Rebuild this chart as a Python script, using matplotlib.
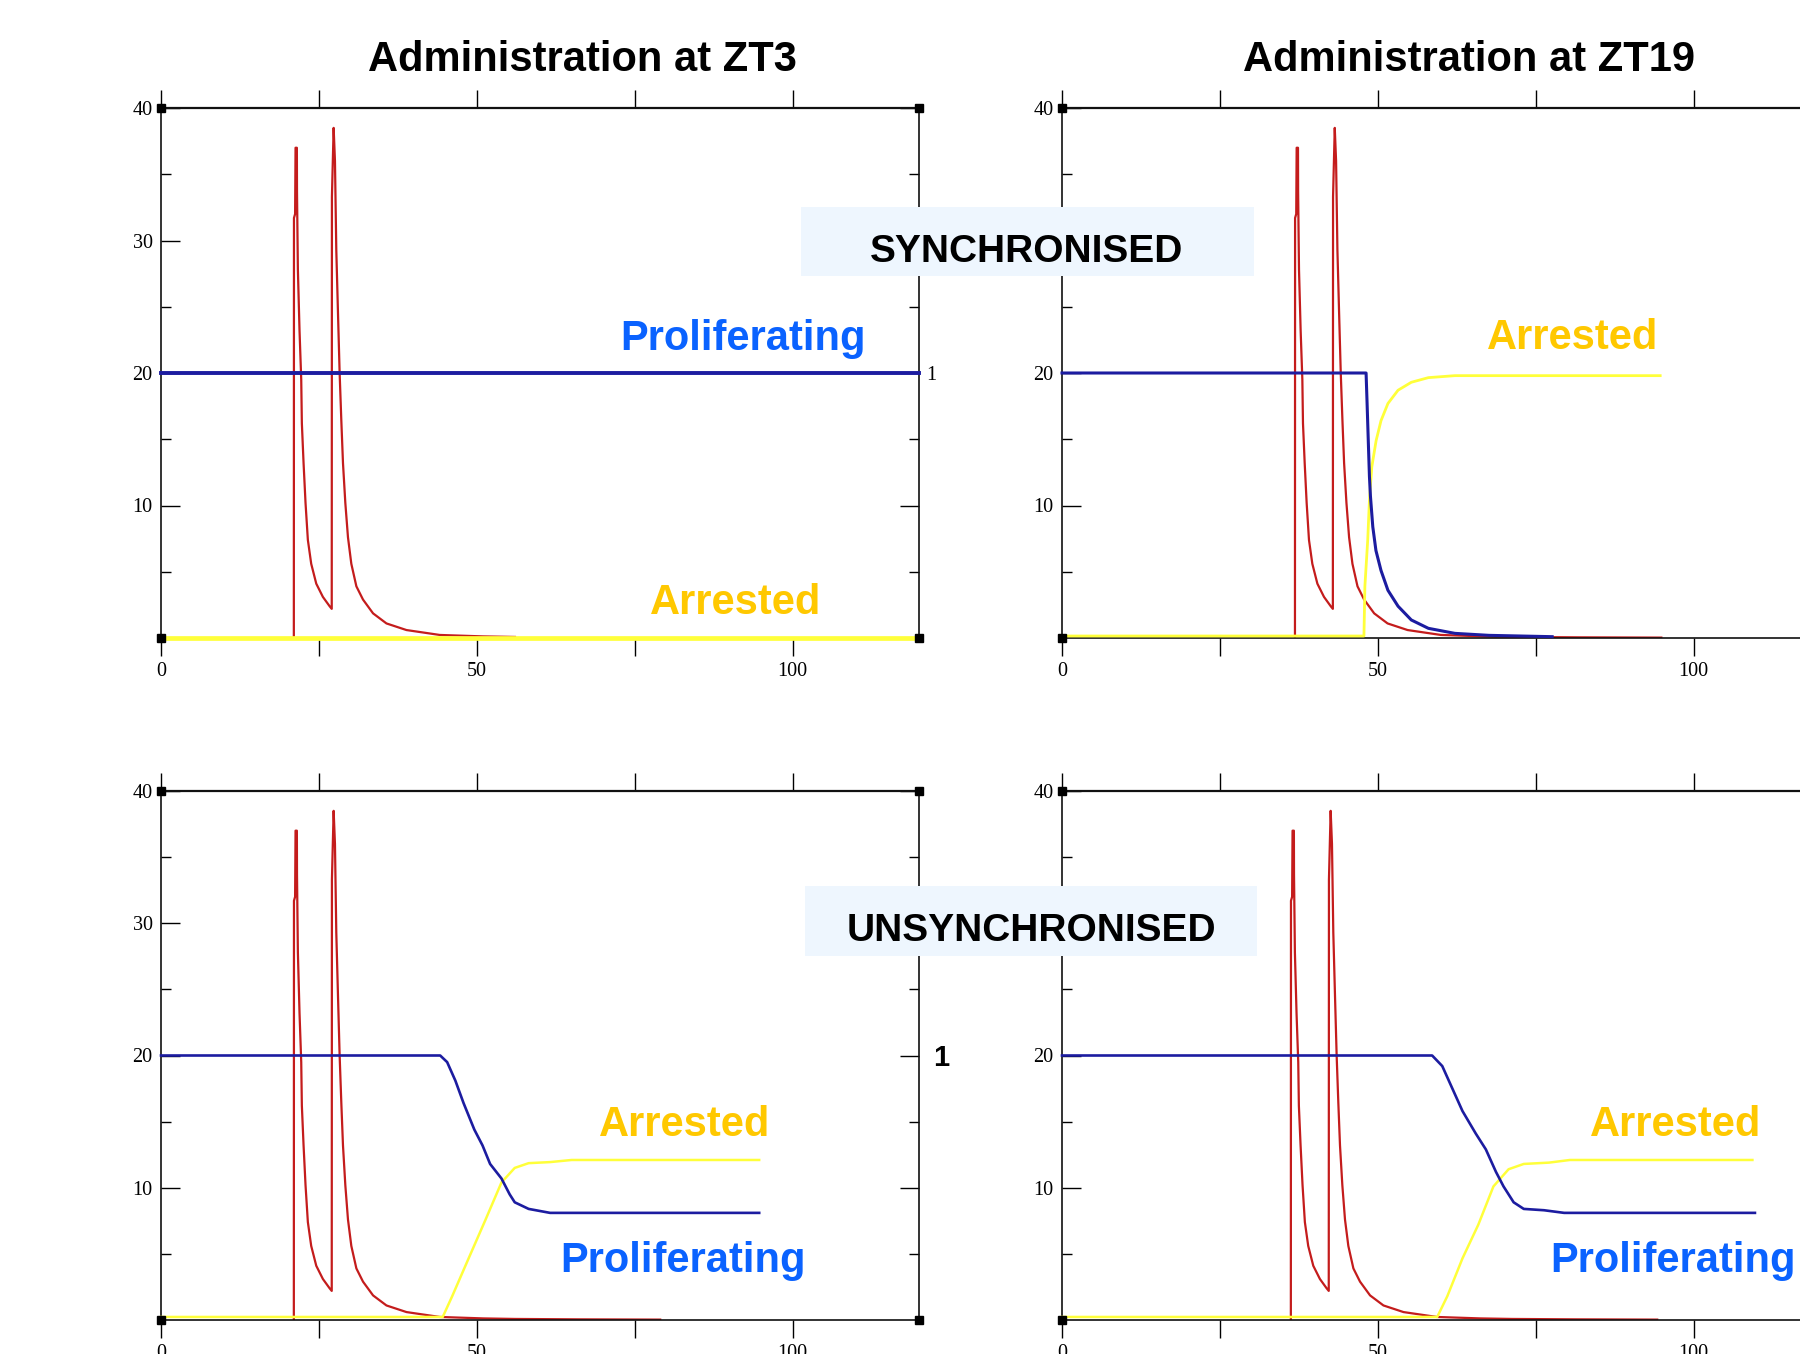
import matplotlib
matplotlib.use("Agg")
import matplotlib.pyplot as plt
from matplotlib import font_manager
from matplotlib.patches import Rectangle
import numpy as np

# drug level after dosing: hours since first dose -> concentration (same shape in every panel)
dose_rel_t = [0.0, 0.02, 0.2, 0.27, 0.48, 0.5, 0.64, 0.9, 1.17, 1.27, 1.54, 1.85, 2.22,
              2.75, 3.55, 4.6, 5.66, 6.0, 6.03, 6.3, 6.51, 6.72, 6.99, 7.25, 7.51, 7.78,
              8.15, 8.57, 9.1, 9.9, 10.95, 12.54, 14.66, 17.83, 23.1, 30.0, 35.0, 45.0, 58.0]
dose_conc = [0.0, 31.7, 32.0, 37.0, 37.0, 33.7, 27.8, 23.2, 19.5, 16.2, 13.2, 10.2, 7.4,
             5.6, 4.1, 3.1, 2.4, 2.2, 33.3, 38.5, 36.0, 29.3, 24.5, 20.0, 16.5, 13.2,
             10.2, 7.6, 5.6, 3.9, 2.9, 1.86, 1.1, 0.6, 0.23, 0.12, 0.08, 0.05, 0.03]

# panel order: ZT3 sync, ZT19 sync, ZT3 unsync, ZT19 unsync
dose_start = [21.03, 36.88, 21.03, 36.23]
dose_last = [35.0, 58.0, 58.0, 58.0]

tl_prolif_t = [0, 120]
tl_prolif_y = [20, 20]
tl_arrest_t = [0, 120]
tl_arrest_y = [0, 0]

tr_prolif_t = [0, 48.14, 48.3, 48.5, 48.67, 48.83, 49.2, 49.7, 50.5, 51.6, 53.2,
               55.3, 58.0, 62.2, 67.6, 77.6]
tr_prolif_y = [20, 20, 17.7, 14.7, 12.2, 10.7, 8.4, 6.6, 5.1, 3.6, 2.4,
               1.36, 0.73, 0.35, 0.2, 0.1]
tr_arrest_t = [0, 47.8, 47.95, 48.4, 48.67, 49.04, 49.73, 50.5, 51.6, 53.2, 55.3,
               58.0, 62.2, 94.7]
tr_arrest_y = [0.15, 0.15, 3.9, 7.4, 10.4, 12.9, 14.9, 16.4, 17.7, 18.7, 19.3,
               19.65, 19.8, 19.8]

bl_prolif_t = [0, 44.2, 45.3, 46.6, 47.9, 49.6, 50.9, 52.1, 53.9, 55.2, 56.0, 58.2,
               61.6, 67.6, 94.7]
bl_prolif_y = [20, 20, 19.5, 18.1, 16.4, 14.4, 13.2, 11.8, 10.7, 9.5, 8.9, 8.4,
               8.1, 8.1, 8.1]
bl_arrest_t = [0, 44.6, 46.1, 48.7, 51.3, 53.9, 56.0, 58.2, 61.6, 65.0, 94.7]
bl_arrest_y = [0.23, 0.23, 1.8, 4.66, 7.5, 10.4, 11.5, 11.86, 11.94, 12.1, 12.1]

br_prolif_t = [0, 58.6, 60.2, 61.8, 63.4, 65.5, 67.1, 68.7, 69.9, 71.5, 73.1, 76.3,
               79.5, 109.7]
br_prolif_y = [20, 20, 19.2, 17.5, 15.8, 14.1, 12.9, 11.2, 10.1, 8.9, 8.4, 8.3,
               8.1, 8.1]
br_arrest_t = [0, 59.4, 61.0, 63.4, 65.9, 68.3, 70.7, 73.1, 77.1, 80.4, 109.3]
br_arrest_y = [0.23, 0.23, 1.8, 4.66, 7.2, 10.1, 11.4, 11.8, 11.9, 12.1, 12.1]

titles = ["Administration at ZT3", "Administration at ZT19"]
row_labels = ["SYNCHRONISED", "UNSYNCHRONISED"]
x_ticks = [0, 25, 50, 75, 100]
x_ticklabels = ["0", "", "50", "", "100"]
y_ticks = [10, 20, 30, 40]
y_minor = [5, 15, 25, 35]

RED = "#c41c1c"
BLUE = "#1c1ca0"
YELLOW = "#ffff3a"
TXT_BLUE = "#0a62ff"
TXT_GOLD = "#ffc800"

names = {f.name for f in font_manager.fontManager.ttflist}
if "Liberation Sans Narrow" in names:
    SANS, big, box_fs = "Liberation Sans Narrow", 36, 34
else:
    SANS, big, box_fs = "Liberation Sans", 30, 28
SERIF = "Liberation Serif"

W, H = 1800, 1354
fig = plt.figure(figsize=(18, 13.54), dpi=100)
fig.patch.set_facecolor("white")


def rect(l, t, r, b):
    return [l / W, 1 - b / H, (r - l) / W, (b - t) / H]


def fxy(x, y):
    return x / W, 1 - y / H


panel_rects = [rect(161, 108, 919, 638), rect(1062, 108, 1820, 638),
               rect(161, 791, 919, 1320), rect(1062, 791, 1820, 1320)]
prolif = [(tl_prolif_t, tl_prolif_y), (tr_prolif_t, tr_prolif_y),
          (bl_prolif_t, bl_prolif_y), (br_prolif_t, br_prolif_y)]
arrest = [(tl_arrest_t, tl_arrest_y), (tr_arrest_t, tr_arrest_y),
          (bl_arrest_t, bl_arrest_y), (br_arrest_t, br_arrest_y)]
line_w = [(2.8, 3.4), (2.2, 2.0), (1.9, 1.8), (1.9, 1.8)]

rel_t = np.array(dose_rel_t)
conc = np.array(dose_conc)

for i, r in enumerate(panel_rects):
    ax = fig.add_axes(r)
    keep = rel_t <= dose_last[i]
    ax.plot(rel_t[keep] + dose_start[i], conc[keep], color=RED, lw=1.6, zorder=2)
    ax.plot(*arrest[i], color=YELLOW, lw=line_w[i][1], zorder=3, clip_on=False,
            solid_joinstyle="round")
    ax.plot(*prolif[i], color=BLUE, lw=line_w[i][0], zorder=4, clip_on=False,
            solid_joinstyle="round")

    x0, x1, y0, y1 = 0, 120, 0, 40
    ax.set_xlim(x0, x1)
    ax.set_ylim(y0, y1)
    ax.plot([x0, x1, x0, x1], [y0, y0, y1, y1], "s", color="black", ms=6,
            clip_on=False, zorder=6)

    for s in ax.spines.values():
        s.set_linewidth(1.2)
        s.set_color("#111111")
    ax.spines["top"].set_linewidth(1.6)

    ax.set_xticks(x_ticks)
    ax.set_xticklabels(x_ticklabels)
    ax.set_yticks(y_ticks)
    ax.set_yticklabels([str(v) for v in y_ticks])
    ax.set_yticks(y_minor, minor=True)
    ax.tick_params(axis="x", direction="out", length=13, width=1, top=True,
                   bottom=True, labelsize=14.5, pad=4, labelfontfamily=SERIF)
    ax.tick_params(axis="y", which="major", direction="in", length=14, width=1,
                   left=True, right=True, labelsize=14.5, pad=6,
                   labelfontfamily=SERIF)
    ax.tick_params(axis="y", which="minor", direction="in", length=7, width=1,
                   left=True, right=True)

    if i in (0, 2):
        sec = ax.secondary_yaxis("right", functions=(lambda v: v / 20, lambda v: v * 20))
        sec.set_yticks([1])
        sec.spines["right"].set_visible(False)
        if i == 0:
            sec.tick_params(length=0, pad=5, labelsize=14.5, labelfontfamily=SERIF)
        else:
            sec.tick_params(length=0, pad=10, labelsize=21)
            for lab in sec.get_yticklabels():
                lab.set_fontweight("bold")
                lab.set_fontfamily(SANS)

# column titles
fig.text(*fxy(582, 71), titles[0], ha="center", va="baseline", fontsize=big,
         fontweight="bold", family=SANS)
fig.text(*fxy(1469, 71), titles[1], ha="center", va="baseline", fontsize=big,
         fontweight="bold", family=SANS)

# row boxes
for (l, t, r, b), (cx, base), lab in zip([(801, 207, 1254, 276), (805, 886, 1257, 956)],
                                         [(1027, 262), (1031, 941)], row_labels):
    fig.add_artist(Rectangle(fxy(l, b), (r - l) / W, (b - t) / H, transform=fig.transFigure,
                             facecolor="#eef6fe", edgecolor="none", zorder=5))
    fig.text(*fxy(cx, base), lab, ha="center", va="baseline", fontsize=box_fs,
             fontweight="bold", family=SANS, zorder=6)

# curve labels
labels = [
    (743, 350, "Proliferating", TXT_BLUE),
    (736, 614, "Arrested", TXT_GOLD),
    (1573, 349, "Arrested", TXT_GOLD),
    (685, 1136, "Arrested", TXT_GOLD),
    (683, 1272, "Proliferating", TXT_BLUE),
    (1676, 1136, "Arrested", TXT_GOLD),
    (1673, 1272, "Proliferating", TXT_BLUE),
]
for x, y, s, c in labels:
    fig.text(*fxy(x, y), s, ha="center", va="baseline", fontsize=big,
             fontweight="bold", family=SANS, color=c, zorder=6)

fig.savefig("out.png", dpi=100, facecolor="white")
